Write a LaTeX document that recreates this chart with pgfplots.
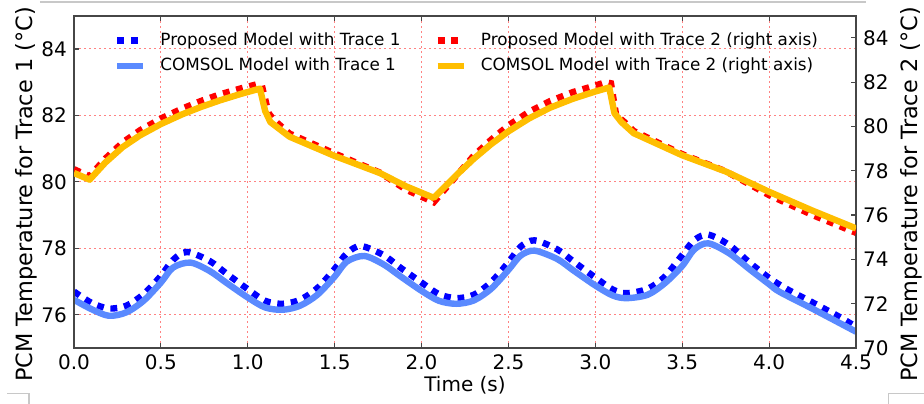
\documentclass[border=0pt]{standalone}
\usepackage{fontspec}
\setmainfont{DejaVu Sans}
\usepackage{pgfplots}
\pgfplotsset{compat=1.18}

\definecolor{comsolblue}{RGB}{90,138,255}
\definecolor{gold}{RGB}{255,190,0}
\definecolor{gridred}{RGB}{255,130,130}
\definecolor{framegray}{RGB}{70,70,70}
\definecolor{artgray}{RGB}{200,200,200}

\pgfplotsset{
  base/.style={
    width=391pt, height=166.125pt, scale only axis,
    xmin=0, xmax=4.5,
    tick align=inside,
    axis line style={framegray, line width=0.9pt},
    major tick style={framegray, line width=0.6pt},
    major tick length=2.5pt,
    /pgf/number format/assume math mode=true,
    tick label style={font=\fontsize{10}{12}\selectfont},
    label style={font=\fontsize{11.2}{13}\selectfont},
    no markers,
    clip mode=individual,
  },
  prop1/.style={blue, line width=3.2pt, dash pattern=on 3.4pt off 3.4pt, smooth, tension=0.5},
  com1/.style={comsolblue, line width=3.2pt, smooth, tension=0.5},
  prop2/.style={red, line width=3.2pt, dash pattern=on 3.4pt off 3.4pt},
  com2/.style={gold, line width=3.2pt, line join=round},
}

\begin{document}
\begin{tikzpicture}
\begin{axis}[base,
  ymin=75, ymax=85,
  ytick={76,78,80,82,84},
  xtick={0,0.5,1,1.5,2,2.5,3,3.5,4,4.5},
  xticklabels={0.0,0.5,1.0,1.5,2.0,2.5,3.0,3.5,4.0,4.5},
  ytick pos=left,
  grid=major,
  grid style={gridred, line width=0.5pt, dash pattern=on 1pt off 1.5pt},
  xlabel={Time (s)},
  xlabel style={at={(rel axis cs:0.5,-0.111)}, anchor=center, font=\fontsize{10}{12}\selectfont},
  ylabel={PCM Temperature for Trace 1 (°C)},
  ylabel style={at={(rel axis cs:-0.0614,0.462)}, anchor=center},
]
\addplot[prop1] coordinates {
(0.0,76.70)(0.1,76.36)(0.2,76.19)(0.3,76.27)(0.4,76.62)(0.5,77.17)(0.57,77.65)(0.65,77.89)(0.78,77.62)(0.875,77.25)(1.0,76.77)(1.1,76.42)(1.2,76.33)(1.3,76.45)(1.4,76.80)(1.5,77.38)(1.57,77.85)(1.65,78.07)(1.78,77.80)(1.875,77.43)(2.0,76.97)(2.1,76.62)(2.2,76.50)(2.3,76.60)(2.4,76.98)(2.5,77.58)(2.57,78.05)(2.65,78.24)(2.78,77.97)(2.875,77.60)(3.0,77.12)(3.1,76.76)(3.18,76.65)(3.3,76.78)(3.4,77.15)(3.5,77.80)(3.57,78.25)(3.65,78.41)(3.77,78.10)(3.89,77.56)(4.0,77.11)(4.1,76.78)(4.25,76.37)(4.4,75.95)(4.5,75.64)
};
\addplot[com1] coordinates {
(0.0,76.45)(0.1,76.17)(0.2,75.97)(0.3,76.07)(0.4,76.42)(0.5,76.97)(0.57,77.42)(0.67,77.57)(0.78,77.32)(0.875,76.97)(1.0,76.52)(1.1,76.22)(1.2,76.15)(1.3,76.27)(1.4,76.60)(1.5,77.15)(1.57,77.60)(1.67,77.77)(1.78,77.52)(1.875,77.17)(2.0,76.72)(2.1,76.42)(2.2,76.33)(2.3,76.43)(2.4,76.78)(2.5,77.35)(2.57,77.78)(2.65,77.93)(2.78,77.68)(2.875,77.33)(3.0,76.88)(3.1,76.58)(3.18,76.50)(3.3,76.60)(3.4,76.95)(3.5,77.47)(3.57,77.97)(3.65,78.15)(3.77,77.85)(3.89,77.36)(4.0,76.92)(4.06,76.69)(4.25,76.18)(4.5,75.49)
};
\coordinate (bbSW) at (rel axis cs:-0.09463,-0.16855);
\coordinate (bbNE) at (rel axis cs:1.08696,1.04740);
\draw[artgray, line width=0.6pt] (rel axis cs:-0.04348,1.0414) -- (rel axis cs:1.0128,1.0414);
\draw[artgray, line width=0.6pt] (rel axis cs:-0.08568,-0.13694) -- (rel axis cs:-0.05754,-0.13694) -- (rel axis cs:-0.05754,-0.16855);
\draw[artgray, line width=0.6pt] (rel axis cs:1.08696,-0.13694) -- (rel axis cs:1.04130,-0.13694) -- (rel axis cs:1.04130,-0.16855);
\end{axis}

\begin{axis}[base,
  ymin=70, ymax=85,
  ytick={70,72,74,76,78,80,82,84},
  ytick pos=right, yticklabel pos=right,
  xtick=\empty,
  ylabel={PCM Temperature for Trace 2 (°C)},
  ylabel style={at={(rel axis cs:1.0712,0.462)}, anchor=center},
  legend columns=2,
  legend cell align=left,
  legend image code/.code={\draw[#1] (0pt,0pt) -- (13pt,0pt);},
  legend style={at={(0.5,1)}, anchor=north, yshift=-6.2pt, xshift=1.5pt, draw=none, fill=none,
    font=\fontsize{8.4}{10}\selectfont, inner xsep=0pt, inner ysep=0pt, row sep=0.9pt,
    /tikz/every odd column/.append style={column sep=5pt},
    /tikz/every even column/.append style={column sep=15pt}},
]
\addlegendimage{prop1}
\addlegendentry{Proposed Model with Trace 1}
\addplot[prop2] coordinates {
(0.0,78.07)(0.09,77.75)(0.18,78.55)(0.28,79.28)(0.38,79.83)(0.5,80.36)(0.62,80.80)(0.73,81.15)(0.84,81.45)(0.96,81.72)(1.05,81.90)(1.08,81.88)(1.12,80.60)(1.15,80.30)(1.24,79.68)(1.5,78.78)(1.76,77.92)(1.91,77.15)(2.07,76.58)(2.22,77.95)(2.3,78.68)(2.4,79.40)(2.5,80.05)(2.62,80.67)(2.74,81.15)(2.87,81.55)(3.0,81.85)(3.06,82.00)(3.09,81.95)(3.12,80.50)(3.16,80.25)(3.22,79.80)(3.5,78.75)(3.75,77.98)(4.0,76.90)(4.25,76.00)(4.5,75.20)
};
\addlegendentry{Proposed Model with Trace 2 (right axis)}
\addlegendimage{com1}
\addlegendentry{COMSOL Model with Trace 1}
\addplot[com2] coordinates {
(0.0,77.90)(0.09,77.60)(0.18,78.37)(0.28,79.07)(0.38,79.60)(0.5,80.11)(0.62,80.54)(0.73,80.88)(0.84,81.18)(0.96,81.47)(1.07,81.71)(1.10,80.70)(1.13,80.20)(1.24,79.54)(1.5,78.67)(1.76,77.90)(1.91,77.30)(2.07,76.78)(2.22,77.95)(2.3,78.54)(2.4,79.20)(2.5,79.78)(2.62,80.37)(2.74,80.85)(2.87,81.25)(3.0,81.58)(3.08,81.76)(3.11,80.60)(3.15,80.20)(3.22,79.70)(3.5,78.70)(3.75,77.97)(4.0,77.05)(4.25,76.20)(4.5,75.40)
};
\addlegendentry{COMSOL Model with Trace 2 (right axis)}
\end{axis}
\pgfresetboundingbox
\useasboundingbox (bbSW) rectangle (bbNE);
\end{tikzpicture}
\end{document}
